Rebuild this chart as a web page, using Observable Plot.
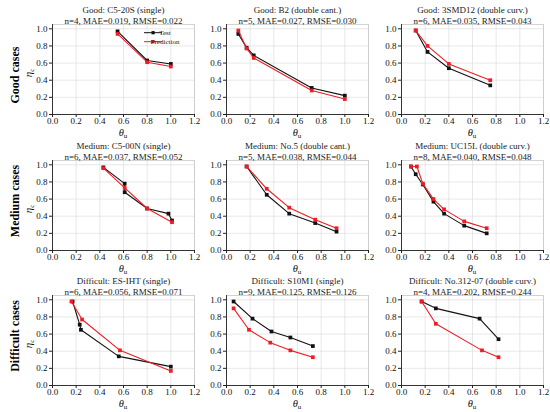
<!DOCTYPE html>
<html><head><meta charset="utf-8">
<script src="https://cdn.jsdelivr.net/npm/d3@7"></script>
<script src="https://cdn.jsdelivr.net/npm/@observablehq/plot@0.6"></script>
<style>
body{margin:0;background:#fff;}
#wrap{position:relative;width:550px;height:412px;overflow:hidden;background:#fff;font-family:"Liberation Serif","Times New Roman",serif;}
.panel{position:absolute;}
.panel svg{background:transparent;overflow:visible;}
.rowlab{position:absolute;font-weight:bold;font-size:12px;white-space:nowrap;transform:translate(-50%,-50%) rotate(-90deg);}
</style></head><body><div id="wrap"></div>
<script>
const rowLabels = ["Good cases", "Medium cases", "Difficult cases"];
const seriesNames = ["Test", "Prediction"];
const panelTitles = ["Good: C5-20S (single)", "Good: B2 (double cant.)", "Good: 3SMD12 (double curv.)",
  "Medium: C5-00N (single)", "Medium: No.5 (double cant.)", "Medium: UC15L (double curv.)",
  "Difficult: ES-IHT (single)", "Difficult: S10M1 (single)", "Difficult: No.312-07 (double curv.)"];
const panelStats = ["n=4, MAE=0.019, RMSE=0.022", "n=5, MAE=0.027, RMSE=0.030", "n=6, MAE=0.035, RMSE=0.043",
  "n=6, MAE=0.037, RMSE=0.052", "n=5, MAE=0.038, RMSE=0.044", "n=8, MAE=0.040, RMSE=0.048",
  "n=6, MAE=0.056, RMSE=0.071", "n=9, MAE=0.125, RMSE=0.126", "n=4, MAE=0.202, RMSE=0.244"];
const testX = [[0.55,0.80,1.00],[0.10,0.17,0.23,0.72,1.00],[0.12,0.22,0.40,0.75],
  [0.43,0.61,0.61,0.80,0.98,1.01],[0.17,0.34,0.53,0.75,0.93],[0.08,0.12,0.18,0.27,0.36,0.53,0.72],
  [0.17,0.23,0.24,0.56,1.00],[0.06,0.22,0.38,0.54,0.73],[0.17,0.29,0.66,0.82]];
const testY = [[0.97,0.63,0.59],[0.94,0.78,0.69,0.31,0.22],[0.98,0.73,0.54,0.34],
  [0.97,0.78,0.68,0.49,0.43,0.35],[0.98,0.65,0.43,0.32,0.22],[0.98,0.89,0.77,0.57,0.43,0.29,0.20],
  [0.98,0.71,0.65,0.34,0.22],[0.98,0.78,0.63,0.56,0.46],[0.98,0.90,0.78,0.54]];
const predX = [[0.55,0.80,1.00],[0.10,0.17,0.23,0.72,1.00],[0.12,0.22,0.40,0.75],
  [0.43,0.61,0.80,1.01],[0.17,0.34,0.53,0.75,0.93],[0.08,0.13,0.18,0.27,0.36,0.53,0.72],
  [0.16,0.25,0.57,1.00],[0.06,0.19,0.37,0.54,0.73],[0.17,0.29,0.68,0.82]];
const predY = [[0.94,0.61,0.56],[0.98,0.77,0.66,0.28,0.18],[0.98,0.80,0.59,0.40],
  [0.96,0.73,0.49,0.33],[0.98,0.72,0.50,0.36,0.26],[0.98,0.98,0.78,0.60,0.48,0.34,0.26],
  [0.98,0.77,0.41,0.17],[0.90,0.65,0.50,0.41,0.33],[0.98,0.72,0.41,0.33]];
const xTicks = [0,0.2,0.4,0.6,0.8,1.0,1.2];
const yTicks = [0,0.2,0.4,0.6,0.8,1.0];

const colors = ["#111111", "#ee1c25"];
const colLeft = [16, 190, 365];
const rowTop = [0, 136, 271];
const mL = 36, mR = 6, mT = 24, mB = 26, innerW = 142, innerH = 90;
const W = mL + innerW + mR, H = mT + innerH + mB;
const wrap = document.getElementById("wrap");
const serif = '"Liberation Serif","Times New Roman",serif';

for (let i = 0; i < 9; i++) {
  const r = Math.floor(i / 3), c = i % 3;
  const test = testX[i].map((x, k) => ({x, y: testY[i][k]}));
  const pred = predX[i].map((x, k) => ({x, y: predY[i][k]}));
  const plot = Plot.plot({
    width: W, height: H,
    marginLeft: mL, marginRight: mR, marginTop: mT, marginBottom: mB,
    style: {fontFamily: serif, background: "transparent", color: "#111"},
    x: {domain: [0, 1.2]},
    y: {domain: [0, 1.05]},
    marks: [
      Plot.gridX(xTicks, {stroke: "#d9d9d9", strokeOpacity: 1, strokeWidth: 0.6}),
      Plot.gridY(yTicks, {stroke: "#d9d9d9", strokeOpacity: 1, strokeWidth: 0.6}),
      Plot.frame({stroke: "#c8c8c8", strokeWidth: 0.8}),
      Plot.ruleX([0], {stroke: "#222", strokeWidth: 0.9}),
      Plot.ruleY([0], {stroke: "#222", strokeWidth: 0.9}),
      Plot.axisX(xTicks, {tickSize: 3, tickPadding: 0, tickFormat: d3.format(".1f"), fontSize: 9, label: null, stroke: "#222"}),
      Plot.axisY(yTicks, {tickSize: 3, tickPadding: 2, tickFormat: d3.format(".1f"), fontSize: 9, label: null, stroke: "#222"}),
      Plot.line(test, {x: "x", y: "y", stroke: colors[0], strokeWidth: 1.1}),
      Plot.dot(test, {x: "x", y: "y", symbol: "square", r: 2.1, fill: colors[0]}),
      Plot.line(pred, {x: "x", y: "y", stroke: colors[1], strokeWidth: 1.1}),
      Plot.dot(pred, {x: "x", y: "y", symbol: "square", r: 2.1, fill: colors[1]}),
      Plot.text([panelTitles[i]], {frameAnchor: "top", dy: -18, fontSize: 9, fill: "#222"}),
      Plot.text([panelStats[i]], {frameAnchor: "top", dy: -7, fontSize: 9, fill: "#222"})
    ]
  });
  const div = document.createElement("div");
  div.className = "panel";
  div.style.left = colLeft[c] + "px";
  div.style.top = rowTop[r] + "px";
  div.appendChild(plot);
  wrap.appendChild(div);

  const svg = d3.select(plot);
  const xl = svg.append("text").attr("x", mL + innerW / 2).attr("y", mT + innerH + 22)
    .attr("text-anchor", "middle").attr("font-size", 10.5).attr("font-family", serif).attr("fill", "#111");
  xl.append("tspan").attr("font-style", "italic").text("θ");
  xl.append("tspan").attr("font-size", 7).attr("dy", 2).text("u");

  if (c === 0) {
    const cy = mT + innerH / 2 + 4;
    const yl = svg.append("text").attr("transform", `translate(${mL - 20},${cy}) rotate(-90)`)
      .attr("text-anchor", "middle").attr("font-size", 11).attr("font-family", serif).attr("fill", "#111");
    yl.append("tspan").attr("font-style", "italic").text("η");
    yl.append("tspan").attr("font-size", 7).attr("dy", 2).text("c");
  }

  if (i === 0) {
    const lg = svg.append("g");
    seriesNames.forEach((name, k) => {
      const ly = 32.7 + k * 9;
      lg.append("line").attr("x1", 128).attr("x2", 146).attr("y1", ly).attr("y2", ly)
        .attr("stroke", colors[k]).attr("stroke-width", 1);
      lg.append("rect").attr("x", 135.5).attr("y", ly - 1.6).attr("width", 3.2).attr("height", 3.2).attr("fill", colors[k]);
      lg.append("text").attr("x", 149).attr("y", ly).attr("dy", "0.32em").attr("font-size", 7)
        .attr("font-family", serif).attr("fill", "#222").text(name);
    });
  }
}

const rowCenters = [75, 201, 336];
rowLabels.forEach((t, k) => {
  const d = document.createElement("div");
  d.className = "rowlab";
  d.textContent = t;
  d.style.left = "15px";
  d.style.top = rowCenters[k] + "px";
  wrap.appendChild(d);
});
</script></body></html>
